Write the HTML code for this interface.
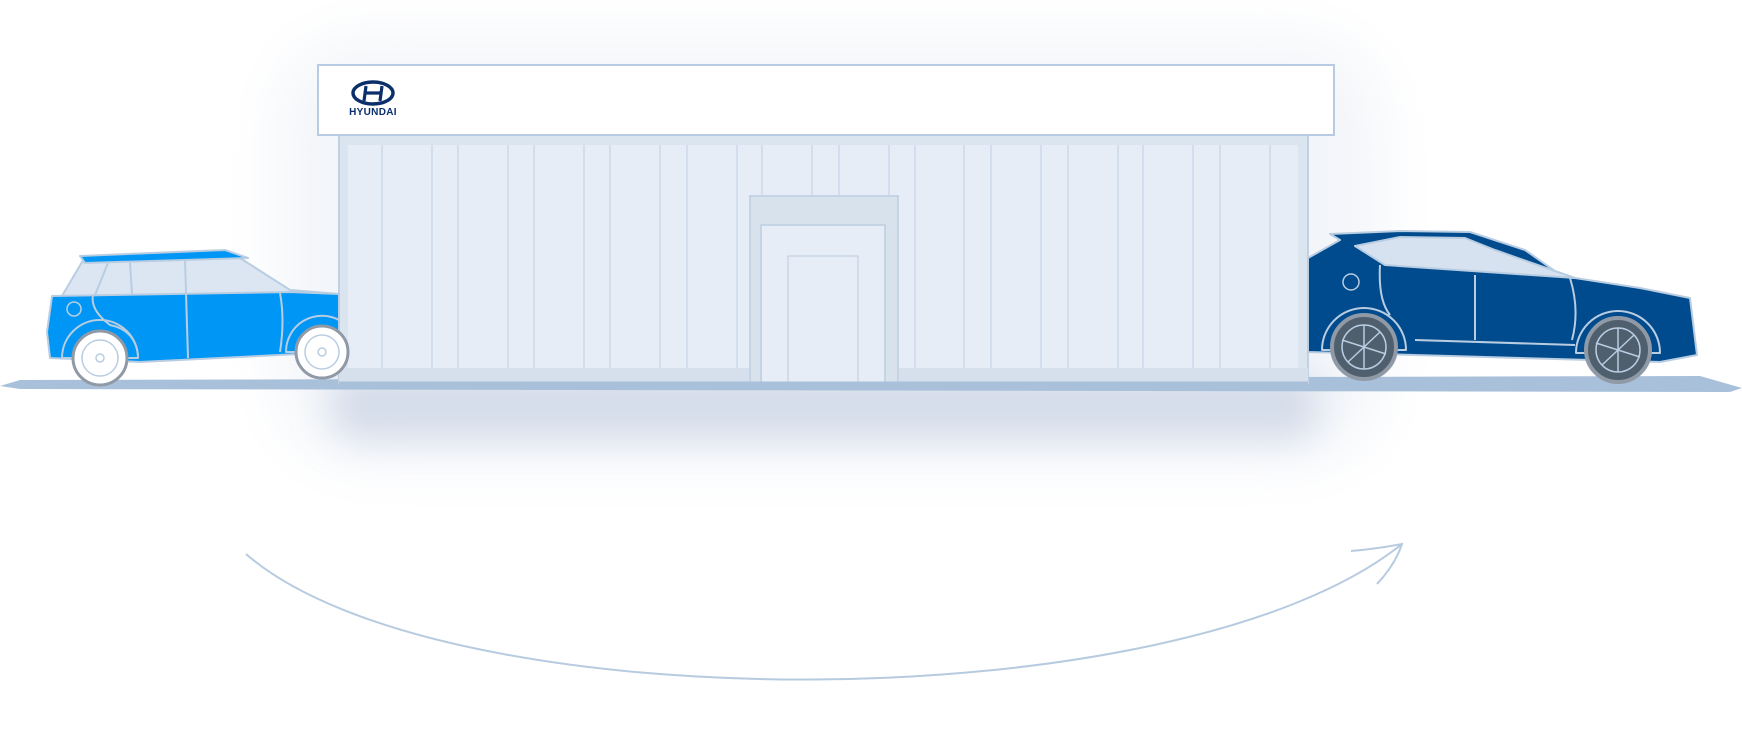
<!DOCTYPE html>
<html><head><meta charset="utf-8"><style>
html,body{margin:0;padding:0;background:#fff;width:1742px;height:737px;overflow:hidden}
</style></head><body>
<svg width="1742" height="737" viewBox="0 0 1742 737" xmlns="http://www.w3.org/2000/svg">
<defs>
<filter id="blur" x="-30%" y="-30%" width="160%" height="160%"><feGaussianBlur stdDeviation="30"/></filter>
<filter id="blur2" x="-30%" y="-50%" width="160%" height="200%"><feGaussianBlur stdDeviation="18"/></filter>
</defs>
<!-- glow -->
<rect x="280" y="40" width="1100" height="420" rx="80" fill="#f3f5f9" filter="url(#blur)"/>
<rect x="330" y="370" width="990" height="70" rx="30" fill="#d5ddea" filter="url(#blur2)"/>
<!-- ground -->
<polygon points="0,386 20,380 1700,376 1742,388 1730,392 20,389" fill="#a8c0da"/>
<!-- building -->
<rect x="339" y="135" width="969" height="248" fill="#dbe5f0" stroke="#c1d1e2" stroke-width="2"/>
<rect x="348" y="145" width="950" height="223" fill="#e6edf6"/>
<g stroke="#c7d7e8" stroke-width="1.3">
<line x1="382" y1="145" x2="382" y2="383"/><line x1="432" y1="145" x2="432" y2="383"/>
<line x1="458" y1="145" x2="458" y2="383"/><line x1="508" y1="145" x2="508" y2="383"/>
<line x1="534" y1="145" x2="534" y2="383"/><line x1="584" y1="145" x2="584" y2="383"/>
<line x1="610" y1="145" x2="610" y2="383"/><line x1="660" y1="145" x2="660" y2="383"/>
<line x1="687" y1="145" x2="687" y2="383"/><line x1="737" y1="145" x2="737" y2="383"/>
<line x1="762" y1="145" x2="762" y2="383"/><line x1="812" y1="145" x2="812" y2="383"/>
<line x1="839" y1="145" x2="839" y2="383"/><line x1="889" y1="145" x2="889" y2="383"/>
<line x1="915" y1="145" x2="915" y2="383"/><line x1="964" y1="145" x2="964" y2="383"/>
<line x1="991" y1="145" x2="991" y2="383"/><line x1="1041" y1="145" x2="1041" y2="383"/>
<line x1="1068" y1="145" x2="1068" y2="383"/><line x1="1118" y1="145" x2="1118" y2="383"/>
<line x1="1143" y1="145" x2="1143" y2="383"/><line x1="1193" y1="145" x2="1193" y2="383"/>
<line x1="1220" y1="145" x2="1220" y2="383"/><line x1="1270" y1="145" x2="1270" y2="383"/>
</g>
<rect x="339" y="368" width="969" height="15" fill="#d6e0ec"/>
<!-- door -->
<rect x="750" y="196" width="148" height="187" fill="#d8e2ec" stroke="#c4d4e4" stroke-width="2"/>
<rect x="761" y="225" width="124" height="158" fill="#e6edf6" stroke="#c4d4e4" stroke-width="2"/>
<rect x="788" y="256" width="70" height="127" fill="#e6edf6" stroke="#c4d4e4" stroke-width="1.3"/>
<line x1="339" y1="383" x2="1308" y2="383" stroke="#a8c0da" stroke-width="3"/>
<!-- sign -->
<rect x="318" y="65" width="1016" height="70" fill="#fff" stroke="#b7cce2" stroke-width="2"/>
<ellipse cx="373" cy="93" rx="20" ry="11" fill="none" stroke="#0b2f6b" stroke-width="3.5"/>
<path d="M366 86 L364 101 M382 86 L380 101 M366 93 L380 93" stroke="#0b2f6b" stroke-width="3.2" fill="none"/>
<text x="373" y="115" text-anchor="middle" font-family="Liberation Sans, sans-serif" font-size="10" font-weight="bold" fill="#0b2f6b" letter-spacing="0.3">HYUNDAI</text>
<!-- left car -->
<g stroke="#b9cde2" stroke-width="2" stroke-linejoin="round">
<path d="M62 296 L82 262 L240 258 L290 290 L339 294 L339 300 Z" fill="#dce6f2"/>
<path d="M80 256 L225 250 L248 258 L85 263 Z" fill="#0096f5"/>
<path d="M52 296 L290 292 L339 294 L339 352 L140 362 L50 358 L47 332 Z" fill="#0096f5"/>
<path d="M62 358 A38 38 0 0 1 138 358 Z" fill="#0096f5"/>
<path d="M286 352 A36 36 0 0 1 339 320 L339 352 Z" fill="#0096f5"/>
<path d="M95 295 L108 263 M130 263 L132 294 M185 260 L188 358 M93 295 Q90 310 110 325 Q135 330 138 355 M280 293 Q285 320 280 352" fill="none"/>
</g>
<g stroke="#8f9aa6" stroke-width="3">
<circle cx="100" cy="358" r="27" fill="#fff"/>
<circle cx="322" cy="352" r="26" fill="#fff"/>
</g>
<g fill="none" stroke="#b9cde2" stroke-width="1.5">
<circle cx="100" cy="358" r="18"/><circle cx="100" cy="358" r="4"/>
<circle cx="322" cy="352" r="17"/><circle cx="322" cy="352" r="4"/>
<circle cx="74" cy="309" r="7"/>
</g>
<!-- right car -->
<g stroke="#b9cde2" stroke-width="2" stroke-linejoin="round">
<path d="M1308 258 L1340 240 L1330 234 L1400 231 L1470 232 L1525 250 L1562 276 L1640 288 L1690 298 L1697 355 L1660 362 L1308 352 Z" fill="#004b8d"/>
<path d="M1355 246 L1400 237 L1465 238 L1495 250 L1575 278 L1385 265 Z" fill="#d6e2f0"/>
<path d="M1322 350 A42 42 0 0 1 1406 350 Z" fill="#004b8d"/>
<path d="M1576 353 A42 42 0 0 1 1660 353 Z" fill="#004b8d"/>
<path d="M1475 275 L1475 340 M1380 265 Q1378 300 1390 315 M1570 278 Q1580 310 1572 340 M1415 340 L1575 345" fill="none"/>
</g>
<g stroke="#8f9aa6" stroke-width="4">
<circle cx="1364" cy="347" r="32" fill="#4f5f6e"/>
<circle cx="1618" cy="350" r="32" fill="#4f5f6e"/>
</g>
<g fill="none" stroke="#b9cde2" stroke-width="1.5">
<circle cx="1364" cy="347" r="22"/><circle cx="1618" cy="350" r="22"/>
<circle cx="1351" cy="282" r="8"/>
<path d="M1342 340 L1386 354 M1364 325 L1364 369 M1348 362 L1380 332 M1596 343 L1640 357 M1618 328 L1618 372 M1602 365 L1634 335"/>
</g>
<!-- arrow -->
<path d="M246 554 C 440 723, 1180 723, 1402 544" fill="none" stroke="#b7cbe0" stroke-width="2"/>
<path d="M1351 551 Q1375 549 1402 544 Q1395 565 1377 584" fill="none" stroke="#b7cbe0" stroke-width="2"/>
</svg>
</body></html>
